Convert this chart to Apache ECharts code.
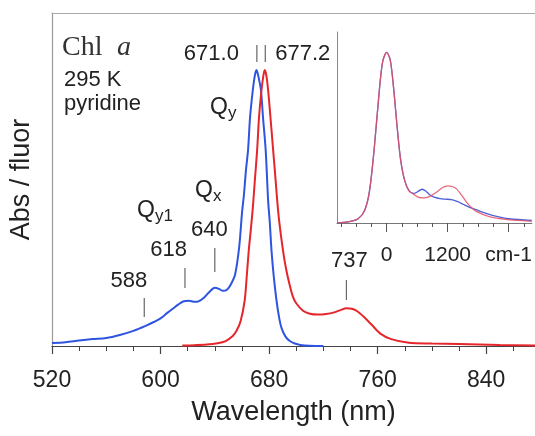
<!DOCTYPE html>
<html>
<head>
<meta charset="utf-8">
<script src="https://cdn.jsdelivr.net/npm/echarts@6/dist/echarts.min.js"></script>
<style>
  html, body { margin: 0; padding: 0; background: #fff; }
  #chart { width: 535px; height: 436px; }
</style>
</head>
<body>
<div id="chart"></div>
<script>
// Chlorophyll a in pyridine at 295 K: absorption (blue) and fluorescence (red),
// both normalised to 1 at their Qy maxima.
const absWavelength = [520, 530, 540, 550, 560, 570, 580, 589, 595, 600, 605, 609, 613, 617, 621, 625, 628, 632, 636, 640,
  643, 646, 649, 652, 655, 658, 660, 661.5, 663, 664.5, 666, 668, 669.5, 670.7, 672, 674, 675.5, 677.5, 679.3, 680.5,
  681.8, 683.5, 685.5, 687.5, 689.2, 692, 695.3, 699, 703, 710, 720];
const absValue = [0.011, 0.014, 0.020, 0.025, 0.029, 0.040, 0.055, 0.073, 0.087, 0.100, 0.120, 0.135, 0.150, 0.162, 0.164, 0.160, 0.162, 0.175, 0.196, 0.211,
  0.207, 0.200, 0.204, 0.225, 0.260, 0.360, 0.480, 0.550, 0.640, 0.710, 0.830, 0.927, 0.980, 1.000, 0.980, 0.927, 0.830, 0.710, 0.527, 0.450,
  0.345, 0.250, 0.164, 0.100, 0.065, 0.035, 0.018, 0.009, 0.004, 0.001, 0.000];

const fluWavelength = [616, 625, 634, 642, 648, 653, 656, 659, 662, 663.5, 665, 666.5, 668, 669.5, 671.2, 672.6, 674.4, 675.8, 676.8, 678,
  679.3, 681, 683, 684.5, 686, 687.5, 690.3, 692.5, 695, 697.5, 700, 705, 710, 716, 722, 728, 733, 737, 741, 745,
  750, 756, 762, 770, 783, 800, 820, 850, 876];
const fluValue = [0.002, 0.003, 0.005, 0.010, 0.018, 0.035, 0.055, 0.090, 0.164, 0.250, 0.345, 0.420, 0.500, 0.600, 0.710, 0.830, 0.927, 0.980, 1.000, 0.980,
  0.927, 0.830, 0.710, 0.620, 0.527, 0.450, 0.345, 0.280, 0.225, 0.180, 0.155, 0.128, 0.117, 0.114, 0.116, 0.122, 0.131, 0.137, 0.135, 0.126,
  0.105, 0.075, 0.045, 0.025, 0.012, 0.009, 0.007, 0.004, 0.002];

// Inset: the same spectra against energy offset from the origin band (cm-1)
const insetAbsShift = [-975, -755, -560, -430, -335, -240, -142, -77, 0, 71, 135, 213, 277, 355, 439, 535,
  600, 697, 780, 858, 950, 1051, 1150, 1277, 1400, 1503, 1630, 1761, 1900, 2083, 2406, 2855];
const insetAbsValue = [0.000, 0.006, 0.025, 0.075, 0.190, 0.447, 0.780, 0.947, 1.000, 0.957, 0.800, 0.545, 0.369, 0.250, 0.190, 0.173,
  0.182, 0.198, 0.185, 0.163, 0.150, 0.143, 0.140, 0.137, 0.125, 0.110, 0.092, 0.078, 0.062, 0.045, 0.025, 0.015];

const insetFluShift = [-975, -755, -560, -430, -335, -240, -142, -77, 0, 71, 135, 213, 277, 355, 439, 535,
  632, 730, 826, 987, 1100, 1200, 1290, 1374, 1470, 1567, 1660, 1761, 2019, 2341, 2855];
const insetFluValue = [0.000, 0.006, 0.025, 0.075, 0.190, 0.447, 0.780, 0.947, 1.000, 0.957, 0.800, 0.545, 0.369, 0.250, 0.190, 0.168,
  0.150, 0.147, 0.153, 0.182, 0.208, 0.218, 0.214, 0.200, 0.165, 0.124, 0.092, 0.068, 0.037, 0.021, 0.010];

// Axis ticks
const xTickLabels = [520, 600, 680, 760, 840];
const insetTickLabels = [0, 1200, 2400];

// Marked band positions (nm)
const peakPositions = [671.0, 677.2];
const bandPositions = [588, 618, 640, 737];

const pairs = (xs, ys) => xs.map((x, i) => [x, ys[i]]);

const SANS = '"Liberation Sans", Arial, Helvetica, sans-serif';
const SERIF = '"Liberation Serif", "Times New Roman", serif';
const BLUE = '#2f55e0';
const RED = '#e5262b';

const minorMain = [];
for (let v = 520; v <= 860; v += 20) minorMain.push(v);
const minorInset = [];
for (let v = -900; v <= 2700; v += 300) minorInset.push(v);

const chart = echarts.init(document.getElementById('chart'), null, { renderer: 'canvas' });

chart.setOption({
  animation: false,
  backgroundColor: '#fff',
  grid: [
    { left: 52, top: 13, right: 0, bottom: 90 },
    { left: 337, top: 32, right: 0, bottom: 213 }
  ],
  xAxis: [
    {
      type: 'value', gridIndex: 0, min: 520, max: 876, position: 'bottom',
      axisLine: { onZero: false, lineStyle: { color: '#444', width: 1.2 } },
      axisTick: { customValues: xTickLabels, length: 8, lineStyle: { color: '#444', width: 1.2 } },
      axisLabel: { customValues: xTickLabels, fontSize: 23, color: '#222', margin: 23, fontFamily: SANS },
      splitLine: { show: false },
      name: 'Wavelength (nm)', nameLocation: 'middle', nameGap: 53,
      nameTextStyle: { fontSize: 27, color: '#222', fontFamily: SANS }
    },
    {
      type: 'value', gridIndex: 0, min: 520, max: 876, position: 'bottom',
      axisLine: { show: false, onZero: false },
      axisTick: { customValues: minorMain, length: 5, lineStyle: { color: '#444', width: 1 } },
      axisLabel: { show: false },
      splitLine: { show: false }
    },
    {
      type: 'value', gridIndex: 0, min: 520, max: 876, position: 'top',
      axisLine: { onZero: false, lineStyle: { color: '#aaa', width: 1.2 } },
      axisTick: { show: false }, axisLabel: { show: false }, splitLine: { show: false }
    },
    {
      type: 'value', gridIndex: 1, min: -975, max: 2855, position: 'bottom',
      axisLine: { onZero: false, lineStyle: { color: '#777', width: 1 } },
      axisTick: { customValues: insetTickLabels, length: 9, lineStyle: { color: '#555', width: 1 } },
      axisLabel: {
        customValues: insetTickLabels, fontSize: 21, color: '#222', margin: 22, fontFamily: SANS,
        formatter: v => (v === 2400 ? 'cm-1' : String(v))
      },
      splitLine: { show: false }
    },
    {
      type: 'value', gridIndex: 1, min: -975, max: 2855, position: 'bottom',
      axisLine: { show: false, onZero: false },
      axisTick: { customValues: minorInset, length: 4, lineStyle: { color: '#555', width: 1 } },
      axisLabel: { show: false }, splitLine: { show: false }
    }
  ],
  yAxis: [
    {
      type: 'value', gridIndex: 0, min: 0, max: 1.207,
      axisLine: { show: true, onZero: false, lineStyle: { color: '#999', width: 1.2 } },
      axisTick: { show: false }, axisLabel: { show: false }, splitLine: { show: false },
      name: 'Abs / fluor', nameLocation: 'middle', nameGap: 17, nameRotate: 90,
      nameTextStyle: { fontSize: 27, color: '#222', fontFamily: SANS }
    },
    {
      type: 'value', gridIndex: 1, min: 0, max: 1.12,
      axisLine: { show: true, onZero: false, lineStyle: { color: '#888', width: 1 } },
      axisTick: { show: false }, axisLabel: { show: false }, splitLine: { show: false }
    }
  ],
  series: [
    {
      name: 'Absorption', type: 'line', xAxisIndex: 0, yAxisIndex: 0,
      data: pairs(absWavelength, absValue), showSymbol: false, smooth: 0.3,
      lineStyle: { color: BLUE, width: 2 }, itemStyle: { color: BLUE }, z: 3
    },
    {
      name: 'Fluorescence', type: 'line', xAxisIndex: 0, yAxisIndex: 0,
      data: pairs(fluWavelength, fluValue), showSymbol: false, smooth: 0.3,
      lineStyle: { color: RED, width: 2 }, itemStyle: { color: RED }, z: 4
    },
    {
      name: 'Absorption (inset)', type: 'line', xAxisIndex: 3, yAxisIndex: 1,
      data: pairs(insetAbsShift, insetAbsValue), showSymbol: false, smooth: 0.3,
      lineStyle: { color: '#4d5fd8', width: 1.3 }, itemStyle: { color: '#4d5fd8' }, z: 3
    },
    {
      name: 'Fluorescence (inset)', type: 'line', xAxisIndex: 3, yAxisIndex: 1,
      data: pairs(insetFluShift, insetFluValue), showSymbol: false, smooth: 0.3,
      lineStyle: { color: 'rgba(228, 80, 100, 0.85)', width: 1.3 }, itemStyle: { color: '#e45064' }, z: 4
    }
  ]
});

// Annotations: band markers are placed through the wavelength axis.
const px = nm => chart.convertToPixel({ xAxisIndex: 0 }, nm);

function text(str, x, y, opts) {
  return {
    type: 'text', silent: true, z: 10,
    style: Object.assign({
      text: str, x: x, y: y, fill: '#222', font: '22px ' + SANS,
      textAlign: 'left', textVerticalAlign: 'middle'
    }, opts || {})
  };
}
function tick(x, y1, y2) {
  return {
    type: 'line', silent: true, z: 10,
    shape: { x1: x, y1: y1, x2: x, y2: y2 },
    style: { stroke: '#666', lineWidth: 1.2 }
  };
}

const g = [];
// sample description
g.push(text('Chl', 62, 48, { font: '28px ' + SERIF, fill: '#333' }));
g.push(text('a', 117, 48, { font: 'italic 28px ' + SERIF, fill: '#333' }));
g.push(text('295 K', 64, 80, { font: '22px ' + SANS }));
g.push(text('pyridine', 64, 104, { font: '22px ' + SANS }));

// Qy maxima of absorption and fluorescence
const [pA, pF] = peakPositions.map(px);
g.push(tick(pA, 45, 62));
g.push(tick(pF, 45, 62));
g.push(text(peakPositions[0].toFixed(1), pA - 18, 54, { textAlign: 'right' }));
g.push(text(peakPositions[1].toFixed(1), pF + 10, 54, { textAlign: 'left' }));

// vibronic / secondary bands
const bandLayout = [
  { dx: 3, align: 'right', top: 298, bottom: 317, ty: 281 },
  { dx: 2, align: 'right', top: 268, bottom: 288, ty: 250 },
  { dx: 13, align: 'right', top: 248, bottom: 272, ty: 230 },
  { dx: 3, align: 'center', top: 280, bottom: 300, ty: 261 }
];
bandPositions.forEach((nm, i) => {
  const L = bandLayout[i];
  const x = px(nm);
  g.push(tick(x, L.top, L.bottom));
  g.push(text(String(nm), x + L.dx, L.ty, { textAlign: L.align }));
});

// Q band names with subscripts
function qLabel(sub, x, baseline) {
  g.push(text('Q', x, baseline - 7.5, { font: '23px ' + SANS }));
  g.push(text(sub, x + 18, baseline - 2, { font: '17px ' + SANS }));
}
qLabel('y', 210, 115);
qLabel('x', 195, 198);
qLabel('y1', 137, 218);

chart.setOption({ graphic: g });
</script>
</body>
</html>
